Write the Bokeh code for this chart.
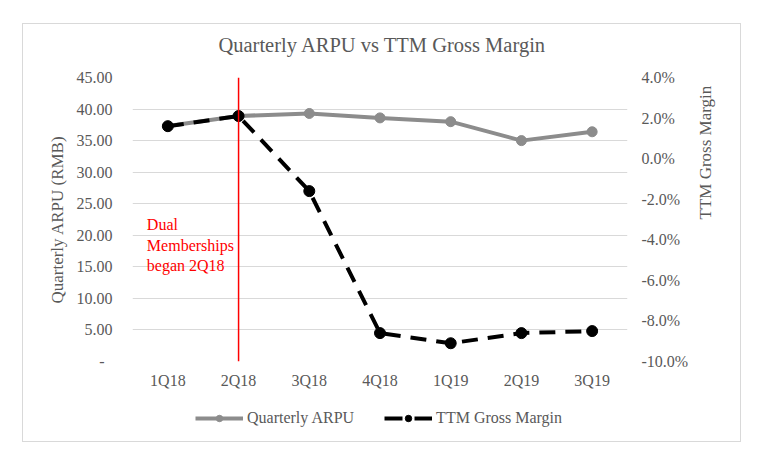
import math
from bokeh.plotting import figure
from bokeh.layouts import column
from bokeh.models import (Range1d, LinearAxis, FixedTicker, CustomJSTickFormatter,
                          Legend, LegendItem, ColumnDataSource, FactorRange, Label)
from bokeh.core.properties import value
from bokeh.embed import file_html
from bokeh.resources import INLINE

# ---- data ----
quarters = ["1Q18", "2Q18", "3Q18", "4Q18", "1Q19", "2Q19", "3Q19"]
arpu = [37.3, 38.9, 39.3, 38.6, 38.0, 35.0, 36.4]          # RMB
ttm_gm = [1.6, 2.1, -1.6, -8.6, -9.1, -8.6, -8.5]          # percent
left_ticks = [0, 5, 10, 15, 20, 25, 30, 35, 40, 45]
right_ticks = [-10, -8, -6, -4, -2, 0, 2, 4]
title_text = "Quarterly ARPU vs TTM Gross Margin"
left_label = "Quarterly ARPU (RMB)"
right_label = "TTM Gross Margin"
series_names = ["Quarterly ARPU", "TTM Gross Margin"]
note_text = "Dual\nMemberships\nbegan 2Q18"
note_quarter = "2Q18"

FONT = "Liberation Serif"
TXT = "#595959"
GREY = "#8c8c8c"
RED = "#ff0000"
W = 717

# ---- title strip ----
tf = figure(width=W, height=40, x_range=FactorRange(*quarters), y_range=Range1d(0, 40),
            x_axis_type=None, y_axis_type=None, title=None,
            output_backend="svg", toolbar_location=None,
            min_border_left=0, min_border_right=0, min_border_top=0, min_border_bottom=0)
tf.outline_line_color = None
tf.add_layout(Label(x=len(quarters) / 2, y=20, x_offset=2.5, text=title_text,
                    text_align="center", text_baseline="middle",
                    text_font=FONT, text_font_size="20.5px", text_color=TXT))

# ---- main chart ----
p = figure(width=W, height=334, title=None,
           x_range=FactorRange(*quarters),
           y_range=Range1d(left_ticks[0], left_ticks[-1]),
           output_backend="svg", toolbar_location=None,
           min_border_left=109, min_border_right=113,
           min_border_top=13, min_border_bottom=37)
p.outline_line_color = None

p.extra_y_ranges = {"gm": Range1d(right_ticks[0], right_ticks[-1])}


def style_axis(ax, standoff):
    ax.axis_line_color = None
    ax.major_tick_line_color = None
    ax.minor_tick_line_color = None
    ax.major_label_text_font = FONT
    ax.major_label_text_font_size = "16px"
    ax.major_label_text_color = TXT
    ax.major_label_standoff = standoff
    ax.axis_label_text_font = FONT
    ax.axis_label_text_font_size = "17px"
    ax.axis_label_text_color = TXT
    ax.axis_label_text_font_style = "normal"


left = p.left[0]
left.ticker = FixedTicker(ticks=left_ticks)
left.formatter = CustomJSTickFormatter(
    code="return tick == 0 ? '-\\u00a0\\u00a0' : tick.toFixed(2);")
left.axis_label = left_label
style_axis(left, 14)
left.axis_label_standoff = 7

bottom = p.below[0]
style_axis(bottom, 4)

right = LinearAxis(y_range_name="gm", ticker=FixedTicker(ticks=right_ticks),
                   formatter=CustomJSTickFormatter(code="return tick.toFixed(1) + '%';"),
                   axis_label=right_label)
style_axis(right, 8)
right.axis_label_standoff = 14
try:
    right.axis_label_orientation = math.pi / 2
except Exception:
    pass
p.add_layout(right, "right")

p.xgrid.visible = False
p.ygrid.grid_line_color = "#d9d9d9"
p.ygrid.grid_line_width = 1

src = ColumnDataSource(dict(q=quarters, arpu=arpu, gm=ttm_gm))

p.line("q", "arpu", source=src, line_color=GREY, line_width=4)
p.scatter("q", "arpu", source=src, size=10, color=GREY)
p.line("q", "gm", source=src, y_range_name="gm", line_color="black",
       line_width=4, line_dash="16 10")
p.scatter("q", "gm", source=src, y_range_name="gm", size=11, color="black")

# vertical marker at start of dual memberships
p.segment(x0=[note_quarter], y0=[left_ticks[0]], x1=[note_quarter], y1=[left_ticks[-1]],
          line_color=RED, line_width=1.5)
p.text(x=[quarters[0]], y=[18.4], text=[note_text], x_offset=-21,
       text_baseline="middle", text_align="left", text_font=value(FONT),
       text_font_size="16px", text_color=RED)

# ---- legend strip below the chart (its own renderers stay outside its view) ----
lg = figure(width=W, height=43, x_range=FactorRange(*quarters), y_range=Range1d(-2, -1),
            x_axis_type=None, y_axis_type=None, title=None,
            output_backend="svg", toolbar_location=None,
            min_border_left=0, min_border_right=0, min_border_top=0, min_border_bottom=0)
lg.outline_line_color = None
k1 = lg.line("q", "arpu", source=src, line_color=GREY, line_width=4)
k1m = lg.scatter("q", "arpu", source=src, size=10, color=GREY)
k2 = lg.line("q", "arpu", source=src, line_color="black", line_width=4, line_dash="18 12")
k2m = lg.scatter("q", "arpu", source=src, size=11, color="black")

legend = Legend(items=[LegendItem(label=series_names[0], renderers=[k1, k1m]),
                       LegendItem(label=series_names[1], renderers=[k2, k2m])],
                orientation="horizontal", location=(63, 14),
                label_text_font=FONT, label_text_font_size="16px",
                label_text_color=TXT, glyph_width=48, glyph_height=16,
                label_standoff=4, spacing=30, padding=0, margin=0,
                border_line_color=None, background_fill_alpha=0)
lg.add_layout(legend)

layout = column(tf, p, lg, margin=(23, 0, 0, 22),
                styles={"border": "1px solid #d9d9d9"})

open("out.html", "w").write(file_html(layout, INLINE))
